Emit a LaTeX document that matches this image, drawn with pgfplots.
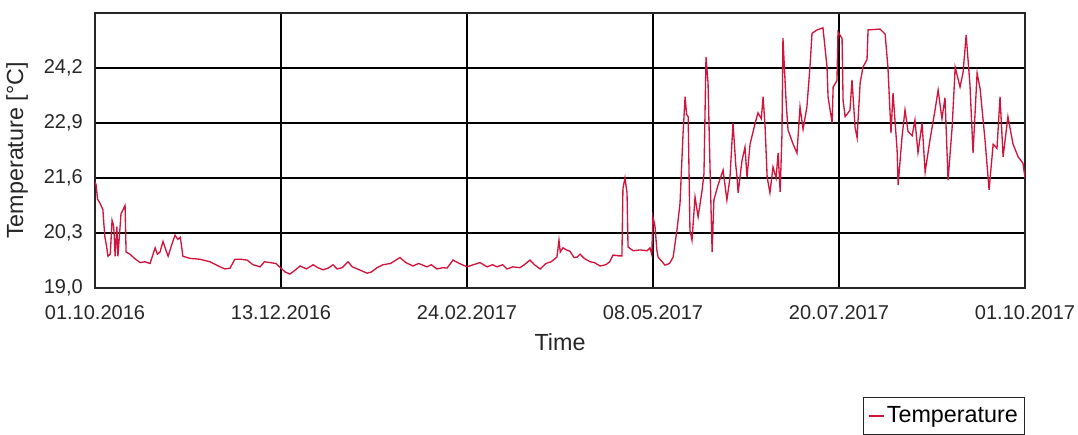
\documentclass[border=0pt]{standalone}
\usepackage{fontspec}
\setmainfont{Liberation Sans}
\usepackage{pgfplots}
\pgfplotsset{compat=1.18}
\definecolor{tline}{RGB}{210,20,60}
\begin{document}
\begin{tikzpicture}
\useasboundingbox (-71.25pt,-110.25pt) rectangle (737.25pt,216pt);
\begin{axis}[
  at={(0pt,0pt)}, anchor=south west,
  scale only axis, width=697.5pt, height=206.25pt,
  xmin=0, xmax=365, ymin=19, ymax=25.5,
  xtick={0,73,146,219,292,365},
  xticklabels={01.10.2016,13.12.2016,24.02.2017,08.05.2017,20.07.2017,01.10.2017},
  ytick={19,20.3,21.6,22.9,24.2},
  yticklabels={{19,0},{20,3},{21,6},{22,9},{24,2}},
  /pgf/number format/assume math mode=true,
  grid=major, major grid style={black, line width=1pt},
  axis line style={line width=2pt, black!85},
  major tick length=0pt,
  tick label style={font=\fontsize{15}{18}\selectfont, inner sep=0pt, text=black!85},
  xticklabel style={anchor=north, yshift=-12.75pt},
  yticklabel style={anchor=east, xshift=-9pt},
  xlabel={Time}, ylabel={Temperature [°C]},
  label style={font=\fontsize{17.5}{21}\selectfont, text=black!85},
  xlabel style={at={(axis description cs:0.5,-0.1636)}, anchor=north, inner sep=0pt},
  ylabel style={at={(axis description cs:-0.0839,0.5)}, anchor=center, inner sep=0pt},
  legend style={at={(axis description cs:1.0,-0.3964)}, anchor=north east,
    draw=black!85, line width=0.75pt, font=\fontsize{17.5}{21}\selectfont,
    inner xsep=3pt, inner ysep=5pt},
  legend cell align=left,
  legend image code/.code={\draw[#1, line width=1pt] (0pt,0pt) -- (11.25pt,0pt);},
]
\addplot[tline, line width=1pt, sharp plot] table {
x y
0 21.5
0.4 21.45
1.0 21.1
2.0 21.0
3.1 20.85
3.5 20.5
3.9 20.2
4.5 20.0
5.1 19.75
6.0 19.8
6.7 20.6
7.2 20.5
7.5 20.3
7.9 19.75
8.6 20.45
9.0 19.75
10.2 20.75
11.0 20.85
11.8 20.95
12.2 19.85
13.7 19.8
15.5 19.7
17.7 19.6
19.5 19.62
21.6 19.58
23.6 19.95
24.5 19.8
25.5 19.85
26.7 20.1
27.5 19.95
28.7 19.75
30.0 20.0
31.4 20.25
32.5 20.15
33.5 20.2
34.5 19.75
37.3 19.7
41.2 19.68
45.1 19.62
49.1 19.5
51.0 19.45
53.0 19.47
54.9 19.68
57.0 19.68
59.7 19.66
62.0 19.55
64.8 19.5
66.5 19.62
68.7 19.6
71.0 19.58
74.6 19.38
76.5 19.33
78.5 19.42
80.5 19.52
83.0 19.45
85.6 19.55
87.5 19.48
89.5 19.43
91.5 19.47
93.4 19.55
95.0 19.45
97.0 19.48
99.3 19.62
101.0 19.5
103.0 19.45
106.8 19.35
108.5 19.38
110.7 19.48
113.0 19.55
116.0 19.58
119.7 19.72
122.0 19.6
124.8 19.52
127.0 19.58
130.3 19.5
132.0 19.55
134.2 19.45
136.5 19.48
138.2 19.47
140.5 19.66
143.0 19.58
146.0 19.5
148.5 19.55
151.1 19.6
153.9 19.5
156.0 19.55
157.8 19.5
160.0 19.55
161.7 19.45
164.0 19.5
166.8 19.48
168.5 19.55
170.7 19.66
172.5 19.55
174.7 19.45
177.0 19.58
179.0 19.62
181.3 19.73
182.1 20.13
182.6 19.85
183.7 19.95
185.0 19.9
186.4 19.87
188.0 19.72
189.2 19.73
190.4 19.8
192.0 19.7
194.3 19.62
196.0 19.6
198.2 19.52
200.5 19.55
202.0 19.62
203.3 19.78
205.5 19.76
206.8 19.76
207.2 21.35
208.0 21.6
208.8 21.25
209.2 19.97
211.2 19.88
214.0 19.9
216.7 19.88
217.8 19.95
218.5 19.8
219.0 20.68
219.8 20.45
220.5 19.9
221.0 19.73
223.7 19.54
225.5 19.58
226.9 19.73
228.0 20.2
228.4 20.37
229.6 21.0
230.8 22.66
231.6 23.52
232.2 23.1
232.8 23.05
233.5 20.37
234.3 20.13
235.5 21.15
236.7 20.68
238.3 21.32
239.0 21.7
239.8 24.46
240.6 23.85
241.4 21.79
242.2 19.85
242.9 21.08
244.5 21.43
246.5 21.79
248.0 21.08
249.2 21.6
250.4 22.9
251.5 21.9
252.0 21.6
252.4 21.25
253.9 22.0
255.1 22.33
255.9 21.62
257.1 22.4
259.1 22.9
260.2 23.14
261.5 23.0
262.2 23.52
263.0 22.8
263.8 21.62
264.9 21.25
266.1 21.86
267.3 21.6
268.1 22.19
268.9 21.27
269.6 22.6
270.0 24.91
271.2 23.44
272.0 22.73
274.0 22.4
275.5 22.19
276.7 23.28
277.9 22.75
279.4 23.28
280.6 24.22
281.4 25.02
283.4 25.1
285.7 25.15
287.3 24.22
287.7 23.52
289.3 22.9
289.7 23.75
291.2 23.9
291.6 25.05
293.2 24.9
293.6 23.44
294.4 23.05
296.3 23.2
297.1 23.92
298.3 22.8
299.1 22.55
300.3 23.85
301.4 24.22
303.0 24.4
303.4 25.1
308.1 25.12
310.1 25.0
311.2 24.22
312.4 22.66
313.2 23.61
314.8 22.26
315.2 21.43
316.7 22.55
317.9 23.21
319.1 22.7
320.7 22.6
321.8 22.97
323.0 22.2
324.6 22.9
325.8 21.74
327.7 22.5
329.7 23.21
330.9 23.68
332.4 23.0
333.6 23.5
334.8 21.55
336.4 22.8
337.6 24.22
339.5 23.75
340.7 24.1
341.9 24.98
343.4 23.8
344.6 22.19
346.2 24.08
347.4 23.7
349.3 22.5
350.9 21.32
352.5 22.4
354.0 22.3
355.2 23.52
356.4 22.1
358.3 23.05
360.3 22.4
362.3 22.1
364.2 21.95
365.0 21.6
};
\addlegendentry{Temperature}
\end{axis}
\end{tikzpicture}
\end{document}
